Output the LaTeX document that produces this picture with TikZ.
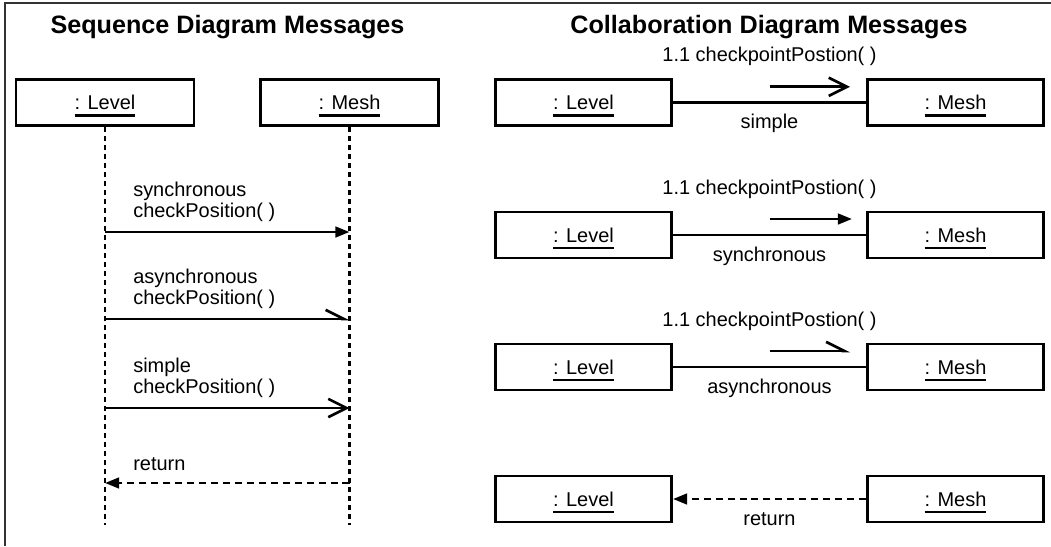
\documentclass[tikz,border=0pt]{standalone}
\usepackage{fontspec}
\setmainfont{Liberation Sans}
\usetikzlibrary{arrows.meta}

\newcommand{\msgfont}{\fontsize{14.2}{15}\selectfont}
\newcommand{\headfont}{\fontsize{17.9}{21}\selectfont\bfseries}
\newlength{\unamewd}
\newcommand{\uname}[1]{\settowidth{\unamewd}{#1}\rlap{\rule[-0.36em]{\unamewd}{0.14em}}#1}

\begin{document}
\begin{tikzpicture}[
	obj/.style={
		draw, line width=2.1pt,
		minimum width=4.45cm, minimum height=1.15cm,
		inner sep=0pt, text height=10.2pt, text depth=0pt,
		font=\msgfont
	},
	heading/.style={anchor=base, inner sep=0pt, font=\headfont},
	lbl/.style={inner sep=0pt, align=left, font=\msgfont},
	life/.style={line width=1.8pt, dash pattern=on 3.6pt off 2.8pt},
	link/.style={line width=1.9pt},
	syncmsg/.style={line width=1.9pt, -{Triangle[length=10pt, width=7.5pt]}},
	asyncmsg/.style={line width=1.9pt, -{Straight Barb[left, length=13pt, width=13pt]}},
	simplemsg/.style={line width=1.9pt, -{Straight Barb[length=13pt, width=13pt]}},
	retmsg/.style={line width=1.9pt, dash pattern=on 5pt off 3.5pt,
		-{Triangle[length=10pt, width=7.5pt]}},
	frame/.style={line width=1.6pt, black!80}
]
\useasboundingbox (0,0) rectangle (26.275,-13.65);

% Frame: left edge and top edge only
\coordinate (fbl) at (0.125,-13.65);
\coordinate (ftl) at (0.125,-0.075);
\coordinate (ftr) at (26.275,-0.075);
\draw[frame] (fbl) -- (ftl) -- (ftr);

% Titles
\node[heading] (seqtitle) at (5.6875,-0.825) {Sequence Diagram Messages};
\node[heading] (coltitle) at (19.225,-0.825) {Collaboration Diagram Messages};

% Sequence diagram
% Level lifeline x=2.625, Mesh lifeline x=8.7375
\node[obj] (lvA) at (2.625,  -2.57) {\uname{: Level}};
\node[obj] (msA) at (8.7375, -2.57) {\uname{: Mesh}};

\coordinate (lvAend) at (2.625,  -13.125);
\coordinate (msAend) at (8.7375, -13.125);
\draw[life] (lvA.south) -- (lvAend);
\draw[life] (msA.south) -- (msAend);

% message rows: -5.8, -7.975, -10.2, -12.075
\coordinate (lvS) at (2.625,  -5.8);
\coordinate (msS) at (8.7375, -5.8);
\coordinate (lvY) at (2.625,  -7.975);
\coordinate (msY) at (8.7375, -7.975);
\coordinate (lvP) at (2.625,  -10.2);
\coordinate (msP) at (8.7375, -10.2);
\coordinate (lvR) at (2.625,  -12.075);
\coordinate (msR) at (8.7375, -12.075);

\draw[syncmsg]   (lvS) -- (msS);
\draw[asyncmsg]  (lvY) -- (msY);
\draw[simplemsg] (lvP) -- (msP);
\draw[retmsg]    (msR) -- (lvR);

\node[lbl, anchor=south west] (syncA)   at (3.325, -5.55)  {synchronous\\checkPosition( )};
\node[lbl, anchor=south west] (asyncA)  at (3.325, -7.725) {asynchronous\\checkPosition( )};
\node[lbl, anchor=south west] (simpleA) at (3.325, -9.95)  {simple\\checkPosition( )};
\node[lbl, anchor=base west]  (retA)    at (3.325, -11.75) {return};

% Collaboration diagram
% Level centre x=14.5875, Mesh centre x=23.8875, rows -2.57 / -5.875 / -9.175 / -12.475
\node[obj, minimum width=4.4cm] (lv1) at (14.5875, -2.57)   {\uname{: Level}};
\node[obj, minimum width=4.4cm] (ms1) at (23.8875, -2.57)   {\uname{: Mesh}};
\node[obj, minimum width=4.4cm] (lv2) at (14.5875, -5.875)  {\uname{: Level}};
\node[obj, minimum width=4.4cm] (ms2) at (23.8875, -5.875)  {\uname{: Mesh}};
\node[obj, minimum width=4.4cm] (lv3) at (14.5875, -9.175)  {\uname{: Level}};
\node[obj, minimum width=4.4cm] (ms3) at (23.8875, -9.175)  {\uname{: Mesh}};
\node[obj, minimum width=4.4cm] (lv4) at (14.5875, -12.475) {\uname{: Level}};
\node[obj, minimum width=4.4cm] (ms4) at (23.8875, -12.475) {\uname{: Mesh}};

% links
\draw[link]   (lv1.east) -- (ms1.west);
\draw[link]   (lv2.east) -- (ms2.west);
\draw[link]   (lv3.east) -- (ms3.west);
\draw[retmsg] (ms4.west) -- (lv4.east);

% message arrows above the links
\coordinate (m1s) at (19.2375, -2.17);
\coordinate (m1e) at (21.25,   -2.17);
\coordinate (m2s) at (19.2375, -5.475);
\coordinate (m2e) at (21.3,    -5.475);
\coordinate (m3s) at (19.2375, -8.775);
\coordinate (m3e) at (21.25,   -8.775);
\draw[simplemsg] (m1s) -- (m1e);
\draw[syncmsg]   (m2s) -- (m2e);
\draw[asyncmsg]  (m3s) -- (m3e);

% labels
\node[lbl, anchor=base] (call1) at (19.2375, -1.545) {1.1 checkpointPostion( )};
\node[lbl, anchor=base] (call2) at (19.2375, -4.85)  {1.1 checkpointPostion( )};
\node[lbl, anchor=base] (call3) at (19.2375, -8.15)  {1.1 checkpointPostion( )};
\node[lbl, anchor=base] (kind1) at (19.2375, -3.22)  {simple};
\node[lbl, anchor=base] (kind2) at (19.2375, -6.525) {synchronous};
\node[lbl, anchor=base] (kind3) at (19.2375, -9.825) {asynchronous};
\node[lbl, anchor=base] (kind4) at (19.2375, -13.125) {return};

\end{tikzpicture}
\end{document}
